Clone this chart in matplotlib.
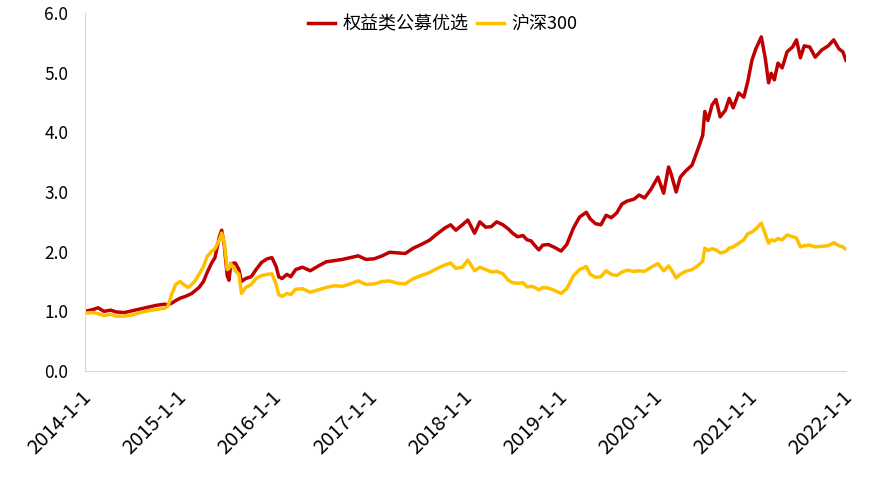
import pandas as pd
import numpy as np
import matplotlib.pyplot as plt
import matplotlib.transforms as mtransforms

plt.rcParams['font.family'] = ['Noto Sans CJK SC', 'DejaVu Sans']

dates = ["2014-01-01", "2014-02-01", "2014-02-20", "2014-03-15", "2014-04-10", "2014-05-01",
         "2014-06-01", "2014-07-01", "2014-08-01", "2014-09-01", "2014-10-01", "2014-11-01",
         "2014-11-15", "2014-12-01", "2014-12-15", "2015-01-01", "2015-01-15", "2015-02-01",
         "2015-02-15", "2015-03-01", "2015-03-15", "2015-04-01", "2015-04-15", "2015-05-01",
         "2015-05-15", "2015-06-01", "2015-06-10", "2015-06-20", "2015-07-01", "2015-07-08",
         "2015-07-15", "2015-08-01", "2015-08-15", "2015-08-25", "2015-09-10", "2015-10-01",
         "2015-10-20", "2015-11-10", "2015-12-01", "2015-12-20", "2016-01-05", "2016-01-15",
         "2016-01-28", "2016-02-15", "2016-03-01", "2016-03-20", "2016-04-15", "2016-05-15",
         "2016-06-15", "2016-07-15", "2016-08-15", "2016-09-15", "2016-10-15", "2016-11-15",
         "2016-12-15", "2017-01-15", "2017-02-15", "2017-03-15", "2017-04-15", "2017-05-15",
         "2017-06-15", "2017-07-15", "2017-08-15", "2017-09-15", "2017-10-15", "2017-11-05",
         "2017-11-25", "2017-12-20", "2018-01-10", "2018-02-05", "2018-02-25", "2018-03-20",
         "2018-04-10", "2018-05-01", "2018-05-25", "2018-06-15", "2018-07-01", "2018-07-20",
         "2018-08-10", "2018-08-25", "2018-09-10", "2018-09-25", "2018-10-10", "2018-10-25",
         "2018-11-15", "2018-12-10", "2019-01-03", "2019-01-25", "2019-02-20", "2019-03-15",
         "2019-04-10", "2019-04-25", "2019-05-15", "2019-06-05", "2019-06-25", "2019-07-15",
         "2019-08-05", "2019-08-25", "2019-09-15", "2019-10-10", "2019-10-30", "2019-11-20",
         "2019-12-15", "2020-01-10", "2020-02-01", "2020-02-20", "2020-03-01", "2020-03-20",
         "2020-04-05", "2020-04-25", "2020-05-20", "2020-06-10", "2020-06-30", "2020-07-08",
         "2020-07-20", "2020-08-05", "2020-08-20", "2020-09-05", "2020-09-25", "2020-10-10",
         "2020-10-25", "2020-11-15", "2020-12-05", "2020-12-20", "2021-01-05", "2021-01-20",
         "2021-02-10", "2021-02-25", "2021-03-10", "2021-03-20", "2021-04-01", "2021-04-15",
         "2021-05-01", "2021-05-20", "2021-06-10", "2021-06-25", "2021-07-10", "2021-07-25",
         "2021-08-15", "2021-09-05", "2021-09-30", "2021-10-25", "2021-11-15", "2021-12-05",
         "2021-12-20", "2022-01-01"]

fund = [1.00, 1.03, 1.06, 1.00, 1.02, 0.99, 0.98, 1.01, 1.04, 1.07, 1.10, 1.12,
        1.11, 1.14, 1.18, 1.22, 1.24, 1.27, 1.30, 1.35, 1.40, 1.50, 1.65, 1.80,
        1.90, 2.25, 2.36, 2.10, 1.60, 1.52, 1.80, 1.81, 1.70, 1.50, 1.55, 1.58,
        1.70, 1.82, 1.88, 1.90, 1.75, 1.58, 1.55, 1.62, 1.58, 1.70, 1.74, 1.68,
        1.76, 1.83, 1.85, 1.87, 1.90, 1.93, 1.87, 1.88, 1.93, 1.99, 1.98, 1.97,
        2.06, 2.12, 2.19, 2.30, 2.40, 2.45, 2.36, 2.45, 2.53, 2.31, 2.50, 2.41,
        2.42, 2.50, 2.45, 2.38, 2.31, 2.25, 2.27, 2.20, 2.18, 2.10, 2.03, 2.11,
        2.12, 2.07, 2.01, 2.12, 2.40, 2.58, 2.66, 2.55, 2.47, 2.45, 2.61, 2.57,
        2.65, 2.80, 2.85, 2.88, 2.95, 2.90, 3.05, 3.25, 2.98, 3.42, 3.30, 3.00,
        3.25, 3.35, 3.45, 3.70, 3.95, 4.35, 4.20, 4.46, 4.55, 4.26, 4.37, 4.57,
        4.41, 4.66, 4.59, 4.85, 5.21, 5.40, 5.60, 5.25, 4.83, 4.99, 4.88, 5.16,
        5.08, 5.35, 5.43, 5.55, 5.25, 5.45, 5.43, 5.26, 5.38, 5.45, 5.55, 5.40,
        5.35, 5.21]

hs300 = [0.97, 0.98, 0.96, 0.93, 0.95, 0.92, 0.92, 0.94, 0.98, 1.01, 1.03, 1.05,
         1.08, 1.30, 1.45, 1.50, 1.45, 1.40, 1.45, 1.52, 1.62, 1.75, 1.92, 2.00,
         2.05, 2.20, 2.31, 2.15, 1.70, 1.72, 1.80, 1.68, 1.62, 1.30, 1.40, 1.45,
         1.55, 1.60, 1.62, 1.63, 1.45, 1.28, 1.25, 1.30, 1.28, 1.37, 1.38, 1.32,
         1.36, 1.40, 1.43, 1.42, 1.46, 1.51, 1.45, 1.46, 1.50, 1.51, 1.47, 1.46,
         1.55, 1.60, 1.65, 1.72, 1.78, 1.81, 1.72, 1.74, 1.86, 1.68, 1.74, 1.70,
         1.66, 1.67, 1.63, 1.52, 1.48, 1.47, 1.48, 1.41, 1.42, 1.40, 1.36, 1.40,
         1.39, 1.35, 1.30, 1.38, 1.60, 1.70, 1.75, 1.62, 1.57, 1.58, 1.68, 1.62,
         1.60, 1.66, 1.69, 1.67, 1.68, 1.67, 1.74, 1.80, 1.68, 1.76, 1.70, 1.56,
         1.62, 1.67, 1.70, 1.76, 1.84, 2.06, 2.02, 2.05, 2.03, 1.98, 2.00, 2.06,
         2.08, 2.14, 2.20, 2.30, 2.33, 2.38, 2.48, 2.30, 2.14, 2.20, 2.18, 2.22,
         2.20, 2.28, 2.25, 2.23, 2.08, 2.10, 2.11, 2.08, 2.09, 2.10, 2.15, 2.10,
         2.08, 2.04]

labels = ["权益类公募优选", "沪深300"]
x = pd.to_datetime(dates)

fig = plt.figure(figsize=(8.9, 4.97), dpi=100)
ax = fig.add_axes([0.0955, 0.2535, 0.855, 0.7203])

ax.plot(x, fund, color="#C00000", lw=2.5, label=labels[0])
ax.plot(x, hs300, color="#FFC000", lw=2.5, label=labels[1])

ax.set_xlim(pd.Timestamp("2014-01-01"), pd.Timestamp("2022-01-01"))
ax.set_ylim(0, 6)
ax.set_yticks(np.arange(0, 7, 1))
ax.yaxis.set_major_formatter(plt.FuncFormatter(lambda v, p: f"{v:.1f}"))

years = list(range(2014, 2023))
ax.set_xticks([pd.Timestamp(f"{y}-01-01") for y in years])
ax.set_xticklabels([f"{y}-1-1" for y in years], rotation=45, ha="right",
                   rotation_mode="anchor", fontsize=14.5)

ax.tick_params(axis="both", length=0)
ax.tick_params(axis="y", labelsize=12.5, pad=12)
ax.tick_params(axis="x", pad=11)

# nudge the rotated date labels a few pixels left
shift = mtransforms.ScaledTranslation(-4 / 100, 0, fig.dpi_scale_trans)
for lab in ax.get_xticklabels():
    lab.set_transform(lab.get_transform() + shift)

for s in ["top", "right"]:
    ax.spines[s].set_visible(False)
for s in ["left", "bottom"]:
    ax.spines[s].set_color("#d9d9d9")

ax.legend(loc="upper center", bbox_to_anchor=(0.47, 1.04), ncol=2, frameon=False,
          fontsize=13, handlelength=1.5, columnspacing=0.5, handletextpad=0.4)

fig.savefig("out.png", dpi=100)
